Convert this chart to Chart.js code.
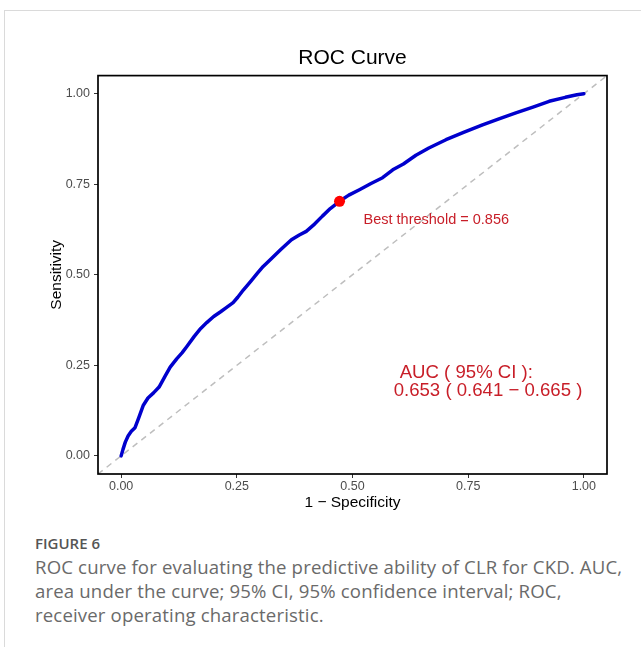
<!DOCTYPE html>
<html>
<head>
<meta charset="utf-8">
<script src="https://cdn.jsdelivr.net/npm/chart.js@4.4.1/dist/chart.umd.min.js"></script>
<style>
    html, body { margin: 0; padding: 0; background: #fff; }
    body { width: 641px; height: 647px; position: relative; overflow: hidden; }
    #moldura { position: absolute; left: 4px; top: 10px; right: 0; bottom: 0; border-top: 1px solid #dadada; border-left: 1px solid #dadada; }
    #grafico-container { position: absolute; left: 0; top: 0; width: 641px; height: 520px; }
    #legenda { position: absolute; left: 35px; top: 533px; width: 606px; font-family: "Open Sans", sans-serif; color: #6a6a6a; }
    #legenda .rotulo { font-size: 15px; line-height: 20px; font-weight: 600; color: #555; }
    #legenda .texto { margin-top: 2px; font-size: 18.6px; line-height: 24px; white-space: nowrap; letter-spacing: 0.15px; }
</style>
</head>
<body>
<div id="moldura"></div>
<div id="grafico-container"><canvas id="grafico-roc" width="641" height="520"></canvas></div>
<div id="legenda">
    <div class="rotulo">FIGURE 6</div>
    <div class="texto">ROC curve for evaluating the predictive ability of CLR for CKD. AUC,<br>area under the curve; 95% CI, 95% confidence interval; ROC,<br>receiver operating characteristic.</div>
</div>
<script>
// #region Dados

var fpr = [0, 0.004, 0.009, 0.015, 0.022, 0.030, 0.038, 0.048, 0.058, 0.070, 0.082, 0.095, 0.106, 0.120, 0.132, 0.142, 0.158, 0.172, 0.185, 0.200, 0.215, 0.228, 0.242, 0.252, 0.264, 0.280, 0.295, 0.307, 0.325, 0.345, 0.368, 0.385, 0.400, 0.418, 0.435, 0.452, 0.472, 0.492, 0.515, 0.540, 0.565, 0.587, 0.610, 0.637, 0.665, 0.702, 0.740, 0.781, 0.815, 0.853, 0.890, 0.925, 0.960, 0.985, 1.0];
var tpr = [0, 0.018, 0.038, 0.055, 0.068, 0.078, 0.105, 0.140, 0.160, 0.174, 0.190, 0.220, 0.245, 0.268, 0.285, 0.302, 0.330, 0.352, 0.368, 0.385, 0.398, 0.410, 0.423, 0.438, 0.458, 0.482, 0.505, 0.523, 0.545, 0.570, 0.597, 0.610, 0.620, 0.640, 0.662, 0.683, 0.703, 0.720, 0.735, 0.752, 0.768, 0.790, 0.806, 0.830, 0.850, 0.873, 0.893, 0.914, 0.930, 0.947, 0.963, 0.979, 0.990, 0.997, 1.0];

var melhorLimiarX = [0.472];
var melhorLimiarY = [0.703];

var limitesEixo = [-0.05, 1.05];
var ticksEixo = [0, 0.25, 0.5, 0.75, 1];

var textoLimiar = "Best threshold = 0.856";
var textoAuc = ["AUC ( 95% CI ):", "0.653 ( 0.641 \u2212 0.665 )"];

// #endregion Dados

var FONTE = "'Liberation Sans', Arial, sans-serif";
var COR_TEXTO_ANOTACAO = "#c81e28";

function pontos(xs, ys) {
    return xs.map(function (x, i) { return { x: x, y: ys[i] }; });
}

// desenha a borda do painel e as anotacoes de texto (como no ggplot)
var pluginPainel = {
    id: "painelRoc",
    afterDatasetsDraw: function (chart) {
        var ctx = chart.ctx;
        var area = chart.chartArea;
        var sx = chart.scales.x;
        var sy = chart.scales.y;

        ctx.save();
        ctx.fillStyle = COR_TEXTO_ANOTACAO;
        ctx.textBaseline = "middle";

        ctx.font = "14.5px " + FONTE;
        ctx.textAlign = "center";
        ctx.fillText(textoLimiar, sx.getPixelForValue(0.681), sy.getPixelForValue(0.650));

        ctx.font = "18.6px " + FONTE;
        ctx.textAlign = "left";
        ctx.fillText(textoAuc[0], sx.getPixelForValue(0.602), sy.getPixelForValue(0.230));
        ctx.fillText(textoAuc[1], sx.getPixelForValue(0.589), sy.getPixelForValue(0.180));

        ctx.strokeStyle = "#000";
        ctx.lineWidth = 1.7;
        ctx.strokeRect(area.left, area.top, area.right - area.left, area.bottom - area.top);
        ctx.restore();
    }
};

function opcoesEixo(titulo, paddingTitulo, ajuste) {
    return {
        type: "linear",
        min: limitesEixo[0],
        max: limitesEixo[1],
        afterBuildTicks: function (scale) {
            scale.ticks = ticksEixo.map(function (v) { return { value: v }; });
        },
        afterFit: ajuste,
        ticks: {
            color: "#4d4d4d",
            font: { family: FONTE, size: 12.5 },
            padding: 0,
            callback: function (v) { return Number(v).toFixed(2); }
        },
        grid: {
            drawOnChartArea: false,
            drawTicks: true,
            tickLength: 4,
            tickColor: "#333",
            tickWidth: 1
        },
        border: { display: false },
        title: {
            display: true,
            text: titulo,
            color: "#000",
            font: { family: FONTE, size: 15.5 },
            padding: paddingTitulo
        }
    };
}

function loadGraficoRoc() {
    var eixoX = opcoesEixo("1 \u2212 Specificity", { top: 0, bottom: 7.7 }, function (scale) { scale.height = 46; });
    eixoX.ticks.padding = 1;
    var eixoY = opcoesEixo("Sensitivity", { top: 47.7, bottom: 0 }, function (scale) { scale.width = 98; });
    eixoY.ticks.padding = 4;

    var options = {
        type: "scatter",
        data: {
            datasets: [
                {
                    label: "Best threshold",
                    data: pontos(melhorLimiarX, melhorLimiarY),
                    pointRadius: 5.5,
                    pointBackgroundColor: "#ff0000",
                    pointBorderWidth: 0
                },
                {
                    label: "ROC",
                    data: pontos(fpr, tpr),
                    showLine: true,
                    borderColor: "#0000cd",
                    borderWidth: 3.5,
                    pointRadius: 0,
                    tension: 0,
                    borderCapStyle: "round",
                    borderJoinStyle: "round"
                },
                {
                    label: "Referencia",
                    data: pontos(limitesEixo, limitesEixo),
                    showLine: true,
                    borderColor: "#bebebe",
                    borderWidth: 1.5,
                    borderDash: [6, 5],
                    pointRadius: 0
                }
            ]
        },
        options: {
            responsive: false,
            animation: false,
            layout: { padding: { left: 0, right: 34, top: 0, bottom: 0 } },
            scales: { x: eixoX, y: eixoY },
            plugins: {
                legend: { display: false },
                tooltip: { enabled: false },
                title: {
                    display: true,
                    text: "ROC Curve",
                    fullSize: false,
                    color: "#000",
                    font: { family: FONTE, size: 21, weight: "normal" },
                    padding: { top: 46, bottom: 4.4 }
                }
            }
        },
        plugins: [pluginPainel]
    };

    new Chart(document.getElementById("grafico-roc"), options);
}

loadGraficoRoc();
</script>
</body>
</html>
